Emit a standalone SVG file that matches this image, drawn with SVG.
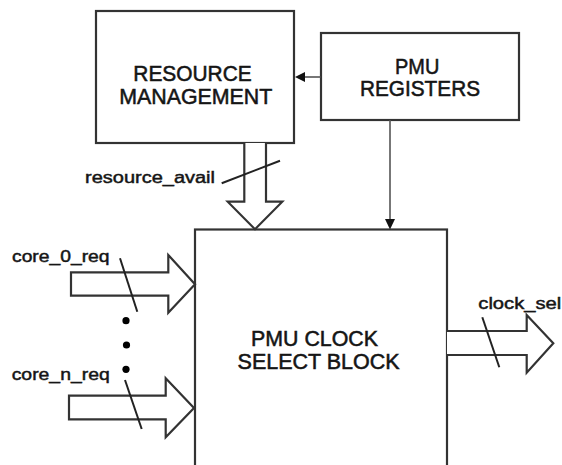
<svg xmlns="http://www.w3.org/2000/svg" width="562" height="465" viewBox="0 0 562 465">
<style>
.box{fill:#fff;stroke:#333;stroke-width:2.2}
.bus{fill:#fff;stroke:#333;stroke-width:2.2;stroke-linejoin:miter}
.slash{stroke:#222;stroke-width:2}
.wire{stroke:#555;stroke-width:1.6;fill:none}
.head{fill:#111;stroke:none}
.cap{font-family:"Liberation Sans",Arial,sans-serif;font-size:22px;fill:#151515;stroke:#151515;stroke-width:0.55}
.lbl{font-family:"Liberation Sans",Arial,sans-serif;font-size:16px;fill:#151515;stroke:#151515;stroke-width:0.45}
</style>
<rect width="562" height="465" fill="#fff"/>
<g id="resource-management">
<rect class="box" x="96" y="11" width="198" height="132"/>
<text class="cap" x="133.3" y="80.8" textLength="118.4" lengthAdjust="spacingAndGlyphs">RESOURCE</text>
<text class="cap" x="119.3" y="103.6" textLength="153" lengthAdjust="spacingAndGlyphs">MANAGEMENT</text>
</g>
<g id="pmu-registers">
<rect class="box" x="321" y="33" width="198" height="87"/>
<text class="cap" x="395" y="73.5" textLength="44.3" lengthAdjust="spacingAndGlyphs">PMU</text>
<text class="cap" x="360" y="96" textLength="120" lengthAdjust="spacingAndGlyphs">REGISTERS</text>
</g>
<g id="pmu-clock-select-block">
<rect class="box" x="195" y="229.5" width="252" height="260"/>
<text class="cap" x="251" y="346" textLength="127" lengthAdjust="spacingAndGlyphs">PMU CLOCK</text>
<text class="cap" x="237.6" y="368.5" textLength="162" lengthAdjust="spacingAndGlyphs">SELECT BLOCK</text>
</g>
<g id="connectors">
<line class="wire" x1="320.5" y1="77" x2="304" y2="77"/>
<polygon class="head" points="295,77 305,72 305,82"/>
<line class="wire" x1="390" y1="120" x2="390" y2="220"/>
<polygon class="head" points="390,229.5 385,219 395,219"/>
<polyline class="bus" points="244.3,143 244.3,201.7 227.7,201.7 255,229.3 282.3,201.7 266,201.7 266,143"/>
<line class="slash" x1="221.7" y1="183.3" x2="280" y2="160.7"/>
<polygon class="bus" points="71,272.3 168.3,272.3 168.3,255 195,284.3 168.3,312.7 168.3,295.7 71,295.7"/>
<line class="slash" x1="120" y1="258.3" x2="137.3" y2="311.7"/>
<polygon class="bus" points="69,395.7 165.7,395.7 165.7,378.3 194,408 165.7,437.3 165.7,419.3 69,419.3"/>
<line class="slash" x1="125" y1="380" x2="141.7" y2="429"/>
<polyline class="bus" points="447,331 526.7,331 526.7,315 553.3,343.3 526.7,372.7 526.7,355 447,355"/>
<line class="slash" x1="482.3" y1="317.3" x2="499.3" y2="367.3"/>
<circle cx="126" cy="320.7" r="3.6" fill="#000"/>
<circle cx="126.5" cy="345" r="3.6" fill="#000"/>
<circle cx="126" cy="369.3" r="3.6" fill="#000"/>
<text class="lbl" x="85" y="183.3" textLength="130" lengthAdjust="spacingAndGlyphs">resource_avail</text>
<text class="lbl" x="12" y="262.3" textLength="97.5" lengthAdjust="spacingAndGlyphs">core_0_req</text>
<text class="lbl" x="11.7" y="380" textLength="98" lengthAdjust="spacingAndGlyphs">core_n_req</text>
<text class="lbl" x="478.3" y="309.3" textLength="83" lengthAdjust="spacingAndGlyphs">clock_sel</text>
</g>
</svg>
